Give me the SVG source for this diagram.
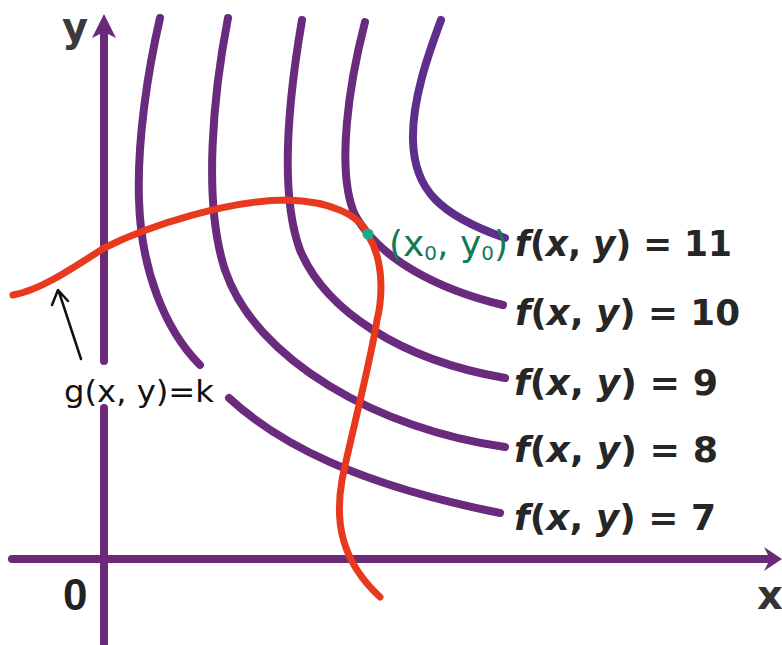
<svg xmlns="http://www.w3.org/2000/svg" width="782" height="645" viewBox="0 0 782 645">
<style>
.ax{stroke:#6A2A78;stroke-width:8;fill:none;stroke-linecap:round}
.lv{stroke:#6A2A7E;stroke-width:8;fill:none;stroke-linecap:round}
.g{stroke:#E8391E;stroke-width:7;fill:none;stroke-linecap:round}
.lbl{font-family:"DejaVu Sans",sans-serif;font-weight:bold;font-size:35px;fill:#262626}
.it{font-style:italic}
</style>
<rect width="782" height="645" fill="#fff"/>
<g id="axes">
<path class="ax" d="M104,30 V361 M104,408 V645 M12,559 H772"/>
<polygon points="104,14 116,38 104,32 92,38" fill="#6A2A78"/>
<polygon points="782,559 764,547 770,559 764,571" fill="#6A2A78"/>
<text x="62" y="41" font-family="DejaVu Sans,sans-serif" font-weight="bold" font-size="40" fill="#3a3a3a">y</text>
<text x="63" y="610" font-family="Liberation Sans,sans-serif" font-weight="bold" font-size="44" fill="#222">0</text>
<text x="757" y="609" font-family="DejaVu Sans,sans-serif" font-weight="bold" font-size="40" fill="#333">x</text>
</g>
<g id="level7">
<path class="lv" d="M160,18 C148,70 137,140 139,200 C141,270 165,330 200,365 M229,398 C280,445 360,485 500,513"/>
<text class="lbl" x="514" y="530" textLength="202" lengthAdjust="spacingAndGlyphs"><tspan class="it">f</tspan>(<tspan class="it">x</tspan>, <tspan class="it">y</tspan>) = 7</text>
</g>
<g id="level8">
<path class="lv" d="M228,18 C214,90 202,200 225,270 C255,360 380,430 505,447"/>
<text class="lbl" x="514" y="462" textLength="204" lengthAdjust="spacingAndGlyphs"><tspan class="it">f</tspan>(<tspan class="it">x</tspan>, <tspan class="it">y</tspan>) = 8</text>
</g>
<g id="level9">
<path class="lv" d="M302,20 C290,90 278,190 300,250 C325,310 400,360 505,378"/>
<text class="lbl" x="514" y="395" textLength="204" lengthAdjust="spacingAndGlyphs"><tspan class="it">f</tspan>(<tspan class="it">x</tspan>, <tspan class="it">y</tspan>) = 9</text>
</g>
<g id="level10">
<path class="lv" d="M365,22 C350,80 335,170 355,215 C380,260 440,290 503,305"/>
<text class="lbl" x="515" y="325" textLength="225" lengthAdjust="spacingAndGlyphs"><tspan class="it">f</tspan>(<tspan class="it">x</tspan>, <tspan class="it">y</tspan>) = 10</text>
</g>
<g id="level11">
<path class="lv" stroke="#5E2E8C" style="stroke:#5E2E8C" d="M441,20 C428,55 412,100 413,140 C414,190 440,215 505,238"/>
<text class="lbl" x="515" y="256" textLength="217" lengthAdjust="spacingAndGlyphs"><tspan class="it">f</tspan>(<tspan class="it">x</tspan>, <tspan class="it">y</tspan>) = 11</text>
</g>
<g id="constraint">
<path class="g" d="M13,295 C40,290 70,270 104,248 C150,225 230,200 287,200 C330,201 360,215 368,235 C385,262 382,300 377,320 C371,360 350,440 342,480 C335,520 340,560 380,597"/>
</g>
<g id="point">
<circle cx="368" cy="234" r="5.5" fill="#1FA88A"/>
<text x="389" y="256" font-family="DejaVu Sans,sans-serif" font-size="36" fill="#137A57">(x<tspan font-size="20" dy="4">0</tspan><tspan dy="-4">, y</tspan><tspan font-size="20" dy="4">0</tspan><tspan dy="-4">)</tspan></text>
</g>
<g id="g-label">
<path d="M81,359 L59,292 M52,305 L58,290 L68,301" stroke="#111" stroke-width="2.5" fill="none" stroke-linecap="round" stroke-linejoin="round"/>
<text x="64" y="402" font-family="DejaVu Sans,sans-serif" font-size="30" fill="#111" textLength="150" lengthAdjust="spacingAndGlyphs">g(x, y)=k</text>
</g>
</svg>
